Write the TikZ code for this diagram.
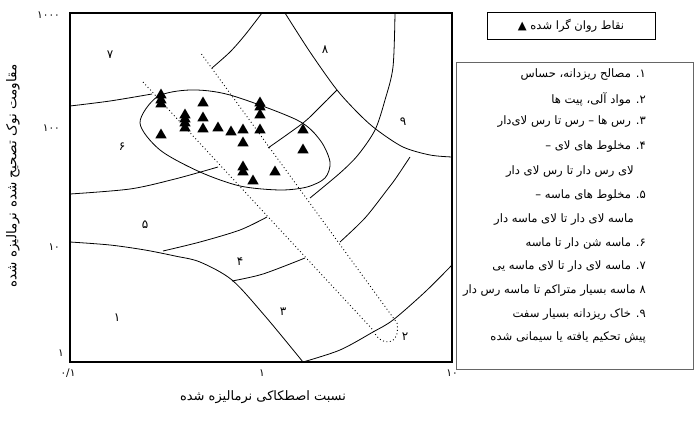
\documentclass[tikz,border=0pt]{standalone}
\usepackage{fontspec}
\usetikzlibrary{shapes.geometric}
\newfontfamily\fa[Script=Arabic]{DejaVu Sans}
\TeXXeTstate=1
\begin{document}
\begin{tikzpicture}[x=1pt,y=-1pt,
  bnd/.style={line width=0.8pt},
  ncline/.style={line width=0.9pt, dash pattern=on 0.9pt off 2.6pt},
  tri/.style={regular polygon, regular polygon sides=3, fill=black, inner sep=0pt, minimum size=13pt},
  zl/.style={font=\fa\fontsize{12}{12}\selectfont, inner sep=0pt},
  tk/.style={font=\fa\fontsize{10.5}{10.5}\selectfont, inner sep=0pt},
  leg/.style={font=\fa\fontsize{11.6}{13}\selectfont, inner sep=0pt, anchor=east}]
\useasboundingbox (0,0) rectangle (696,423);
% frame
\draw[line width=1.8pt] (70,13) rectangle (452,362);
% zone boundaries
\draw[bnd] plot[smooth] coordinates {(70,242) (110,245) (145,250) (175,256) (200,262) (232,280) (265,316) (303,362)};
\draw[bnd] plot[smooth] coordinates {(232,281) (263,274) (305,258)};
\draw[bnd] plot[smooth] coordinates {(163,251) (200,242) (240,230) (267,217)};
\draw[bnd] plot[smooth] coordinates {(70,194) (130,189) (175,179) (218,167)};
\draw[bnd] plot[smooth] coordinates {(70,106) (110,101) (152,94)};
\draw[bnd] plot[smooth] coordinates {(262,13) (245,35) (230,52) (212,68)};
\draw[bnd] plot[smooth] coordinates {(285,13) (310,52) (337,90) (360,115) (377,130) (403,147) (430,155) (452,157)};
\draw[bnd] plot[smooth] coordinates {(337,90) (320,107) (303,123) (268,148)};
\draw[bnd] plot[smooth] coordinates {(395,13) (393,67) (385,100) (375,130) (358,155) (340,173) (310,198)};
\draw[bnd] plot[smooth] coordinates {(410,157) (396,178) (387,190) (365,218) (340,242)};
\draw[bnd] plot[smooth] coordinates {(303,362) (340,350) (373,332) (393,320) (425,292) (452,265)};
% normally consolidated band
\draw[ncline] (143,82) -- (373,330) .. controls (380,347) and (401,347) .. (397,323) -- (200,52);
% envelope of data
\draw[bnd] plot[smooth cycle] coordinates {(140,123) (157,97) (190,90) (230,95) (297,120) (320,140) (330,162) (325,178) (307,187) (280,190) (240,186) (200,172) (160,150)};
% data points
\foreach \px/\py [count=\i] in {161/95,161/100,161/104,161/135,203/103,185/115,185/119,185/123,185/128,203/118,203/129,218/128,231/132,243/130,243/143,260/103,260/107,260/115,260/130,303/130,303/150,243/167,243/172,253/181,275/172}
  \node[tri] (t\i) at (\px,\py) {};
% zone labels
\node[zl] (z7) at (110,55) {۷};
\node[zl] (z8) at (325,50) {۸};
\node[zl] (z9) at (403,122) {۹};
\node[zl] (z6) at (122,147) {۶};
\node[zl] (z5) at (145,225) {۵};
\node[zl] (z4) at (240,262) {۴};
\node[zl] (z3) at (283,312) {۳};
\node[zl] (z1) at (117,318) {۱};
\node[zl] (z2) at (405,337) {۲};
% ticks
\node[tk,anchor=east] (y1000) at (60,15) {۱۰۰۰};
\node[tk,anchor=east] (y100) at (60,128) {۱۰۰};
\node[tk,anchor=east] (y10) at (60,247) {۱۰};
\node[tk,anchor=east] (y1) at (64,353) {۱};
\node[tk] (x01) at (68,373) {۰/۱};
\node[tk] (x1) at (262,373) {۱};
\node[tk] (x10) at (452,373) {۱۰};
% axis titles
\node[font=\fa\fontsize{13}{13}\selectfont, inner sep=0pt] (xt) at (263,397) {\beginR نسبت اصطکاکی نرمالیزه شده\endR};
\node[font=\fa\fontsize{13.5}{13.5}\selectfont, inner sep=0pt, rotate=90] (yt) at (13,176) {\beginR مقاومت نوک تصحیح شده نرمالیزه شده\endR};
% legend
\node[draw, line width=0.6pt, minimum width=168pt, minimum height=27pt, inner sep=0pt, font=\fa\fontsize{11.5}{11.5}\selectfont] (note) at (571,26) {\beginR نقاط روان گرا شده ▲\endR};
\node[draw=black!60, line width=0.8pt, minimum width=237pt, minimum height=307pt, inner sep=0pt] (legend) at (574.5,215.5) {};
\node[leg] (l1) at (646,75) {\beginR ۱\kern0pt. مصالح ریزدانه، حساس\endR};
\node[leg] (l2) at (646,99) {\beginR ۲\kern0pt. مواد آلی، پیت ها\endR};
\node[leg] (l3) at (646,122) {\beginR ۳\kern0pt. رس ها – رس تا رس لای‌دار\endR};
\node[leg] (l4) at (646,147) {\beginR ۴\kern0pt. مخلوط های لای –\endR};
\node[leg] (l4b) at (634,172) {\beginR لای رس دار تا رس لای دار\endR};
\node[leg] (l5) at (646,196) {\beginR ۵\kern0pt. مخلوط های ماسه –\endR};
\node[leg] (l5b) at (634,220) {\beginR ماسه لای دار تا لای ماسه دار\endR};
\node[leg] (l6) at (646,244) {\beginR ۶\kern0pt. ماسه شن دار تا ماسه\endR};
\node[leg] (l7) at (646,267) {\beginR ۷\kern0pt. ماسه  لای دار تا لای ماسه یی\endR};
\node[leg] (l8) at (646,291) {\beginR ۸ ماسه  بسیار متراکم تا ماسه رس دار\endR};
\node[leg] (l9) at (646,315) {\beginR ۹\kern0pt. خاک ریزدانه بسیار سفت\endR};
\node[leg] (l9b) at (646,338) {\beginR پیش تحکیم یافته یا سیمانی شده\endR};
\end{tikzpicture}
\end{document}
